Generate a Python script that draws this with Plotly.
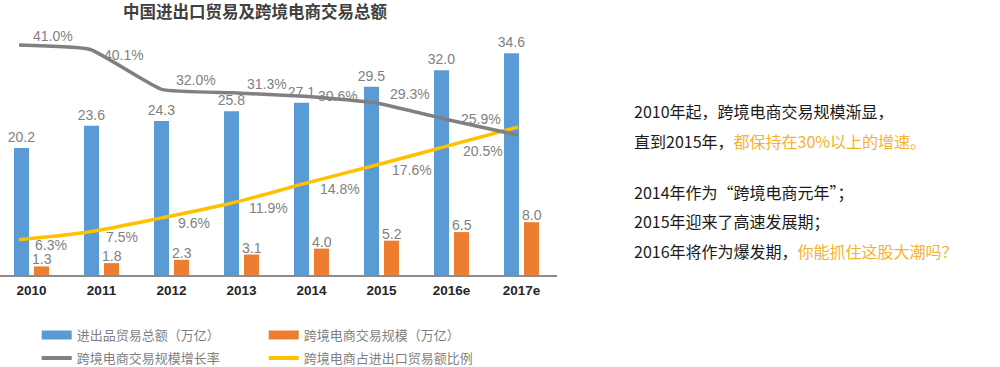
import plotly.graph_objects as go

# ---------------- data ----------------
years = ["2010", "2011", "2012", "2013", "2014", "2015", "2016e", "2017e"]
trade_total = [20.2, 23.6, 24.3, 25.8, 27.1, 29.5, 32.0, 34.6]      # 进出品贸易总额（万亿）
cbec_scale = [1.3, 1.8, 2.3, 3.1, 4.0, 5.2, 6.5, 8.0]               # 跨境电商交易规模（万亿）
cbec_growth = [41.0, 40.1, 32.0, 31.3, 30.6, 29.3, 25.9, 22.7]      # 跨境电商交易规模增长率 (%)
cbec_share = [6.3, 7.5, 9.6, 11.9, 14.8, 17.6, 20.5, 23.4]          # 跨境电商占进出口贸易额比例 (%)
n_growth_labels = 7
n_share_labels = 7

names = ["进出品贸易总额（万亿）", "跨境电商交易规模（万亿）",
         "跨境电商交易规模增长率", "跨境电商占进出口贸易额比例"]
title = "中国进出口贸易及跨境电商交易总额"
side_lines = [
    ("2010年起，跨境电商交易规模渐显，", ""),
    ("直到2015年，", "都保持在30%以上的增速。"),
    ("2014年作为“跨境电商元年”；", ""),
    ("2015年迎来了高速发展期；", ""),
    ("2016年将作为爆发期，", "你能抓住这股大潮吗？"),
]

# ---------------- styles ----------------
BLUE, ORANGE, GRAY, GOLD = "#5B9BD5", "#ED7D31", "#808080", "#FFC000"
LABEL = "#7F7F7F"
HILITE = "#F6B12F"
CJK = "Noto Sans CJK SC"
NUM = "Liberation Sans, Arial"
growth_label_pos = ["top", "bottom", "top", "top", "middle", "top", "middle"]
share_label_pos = ["bottom"] * 7
yshift_for = {"top": 9, "middle": 0, "bottom": -5}
side_y_px = [111, 141, 192, 221, 251]
legend_rows_px = [335, 358]
legend_x_px = 36.7

W, H = 1000, 367
ML, MR, MT, MB = 0, 443, 40, 92
plot_w = W - ML - MR
plot_h = H - MT - MB
cat_px = 70.0

idx = list(range(len(years)))

fig = go.Figure()

bar_w = 15 / cat_px
blue_off, orange_off = -17.5 / cat_px, 2.5 / cat_px
fig.add_trace(go.Bar(
    x=idx, y=trade_total, width=bar_w, offset=blue_off,
    marker=dict(color=BLUE, line=dict(width=0)),
    text=[f"{v:.1f}" for v in trade_total], textposition="outside",
    textfont=dict(family=NUM, size=14, color=LABEL), constraintext="none",
    cliponaxis=False, showlegend=False, hoverinfo="skip", yaxis="y"))
fig.add_trace(go.Bar(
    x=idx, y=cbec_scale, width=bar_w, offset=orange_off,
    marker=dict(color=ORANGE, line=dict(width=0)),
    showlegend=False, hoverinfo="skip", yaxis="y2"))

fig.add_trace(go.Scatter(
    x=idx, y=cbec_growth, mode="lines", xaxis="x2", yaxis="y3",
    line=dict(color=GRAY, width=3.5, shape="spline", smoothing=0.4),
    showlegend=False, hoverinfo="skip"))
fig.add_trace(go.Scatter(
    x=idx, y=cbec_share, mode="lines", xaxis="x2", yaxis="y",
    line=dict(color=GOLD, width=3.5, shape="spline", smoothing=0.8),
    showlegend=False, hoverinfo="skip"))

# legend proxies (no data): row 1 = bars, row 2 = lines
for nm, col, lw, lg in zip(names, [BLUE, ORANGE, GRAY, GOLD], [9, 9, 4, 4],
                           ["legend", "legend", "legend2", "legend2"]):
    fig.add_trace(go.Scatter(x=[None], y=[None], mode="lines", name=nm, legend=lg,
                             line=dict(color=col, width=lw), xaxis="x2", yaxis="y"))

annotations = []
# orange bar value labels, centred over the orange bars
for i, v in enumerate(cbec_scale):
    annotations.append(dict(
        x=idx[i], y=v, xref="x", yref="y2", text=f"{v:.1f}", showarrow=False,
        xanchor="center", yanchor="bottom", xshift=(orange_off + bar_w / 2) * cat_px,
        yshift=-3, font=dict(family=NUM, size=14, color=LABEL)))
for i in range(n_growth_labels):
    annotations.append(dict(
        x=idx[i], y=cbec_growth[i], xref="x2", yref="y3",
        text=f"{cbec_growth[i]:.1f}%", showarrow=False,
        xanchor="left", yanchor="middle", xshift=12,
        yshift=yshift_for[growth_label_pos[i]],
        font=dict(family=NUM, size=14, color=LABEL)))
for i in range(n_share_labels):
    annotations.append(dict(
        x=idx[i], y=cbec_share[i], xref="x2", yref="y",
        text=f"{cbec_share[i]:.1f}%", showarrow=False,
        xanchor="left", yanchor="middle", xshift=14,
        yshift=yshift_for[share_label_pos[i]],
        font=dict(family=NUM, size=14, color=LABEL)))

side_x = (632 - ML) / plot_w
for (plain, hi), ypx in zip(side_lines, side_y_px):
    txt = plain + (f'<span style="color:{HILITE}">{hi}</span>' if hi else "")
    annotations.append(dict(
        x=side_x, y=(H - MB - ypx) / plot_h, xref="paper", yref="paper",
        text=txt, showarrow=False, xanchor="left", yanchor="middle",
        font=dict(family=CJK, size=16, color="#1A1A1A")))

# axis ranges (pixel-fitted)
x_lo = -31.5 / cat_px
x_hi = x_lo + plot_w / cat_px
line_px0, line_step = 19.0, 71.3
x2_lo = -line_px0 / line_step
x2_hi = x2_lo + plot_w / line_step

legend_common = dict(orientation="h", xref="container", x=legend_x_px / W, xanchor="left",
                     yref="container", yanchor="middle", entrywidth=182,
                     font=dict(family=CJK, size=13, color=LABEL),
                     bgcolor="rgba(0,0,0,0)", traceorder="normal", itemwidth=30)

fig.update_layout(
    width=W, height=H,
    margin=dict(l=ML, r=MR, t=MT, b=MB, pad=0, autoexpand=False),
    paper_bgcolor="white", plot_bgcolor="white",
    barmode="overlay",
    title=dict(text=f"<b>{title}</b>", x=0.255, xref="container", xanchor="center",
               y=1 - 12.5 / H, yref="container", yanchor="middle",
               font=dict(family=CJK, size=16.5, color="#404040")),
    xaxis=dict(range=[x_lo, x_hi], tickmode="array", tickvals=idx, ticktext=years,
               showline=True, linecolor="#8C8C8C", linewidth=2, ticks="",
               showgrid=False, zeroline=False, ticklabelstandoff=2, automargin=False,
               tickfont=dict(family=NUM, size=13.5, color="#262626", weight="bold")),
    xaxis2=dict(range=[x2_lo, x2_hi], overlaying="x", visible=False, anchor="y"),
    yaxis=dict(range=[0.93, 36.61], visible=False, showgrid=False, zeroline=False,
               automargin=False),
    yaxis2=dict(range=[0, 35.6], overlaying="y", visible=False, showgrid=False, zeroline=False),
    yaxis3=dict(range=[-5.72, 42.04], overlaying="y", visible=False, showgrid=False, zeroline=False),
    legend=dict(legend_common, y=1 - legend_rows_px[0] / H),
    legend2=dict(legend_common, y=1 - legend_rows_px[1] / H),
    annotations=annotations,
    showlegend=True,
)

fig.write_html("out.html", config={"displayModeBar": False},
               post_script="document.body.style.margin='0';")
